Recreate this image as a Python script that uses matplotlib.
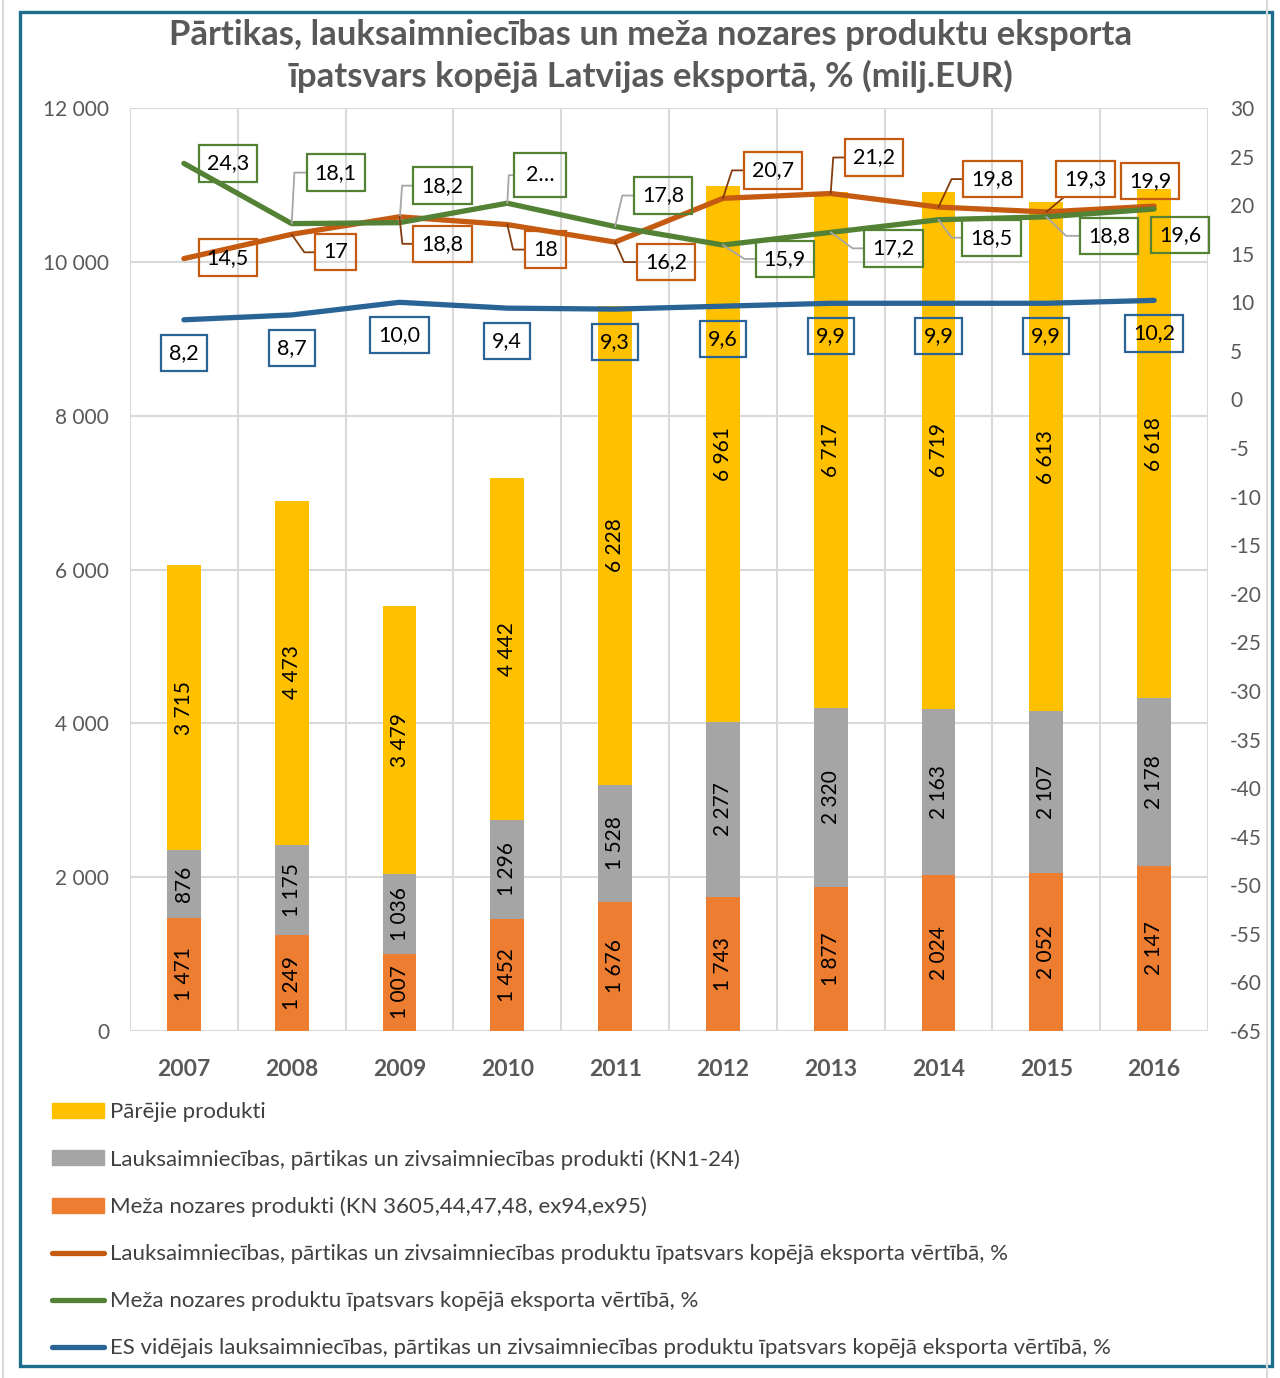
import matplotlib
matplotlib.use("Agg")
import matplotlib.pyplot as plt
import numpy as np
from matplotlib.lines import Line2D
from matplotlib.patches import Patch, Rectangle

plt.rcParams["font.family"] = ["Lato", "DejaVu Sans"]

years = ["2007", "2008", "2009", "2010", "2011", "2012", "2013", "2014", "2015", "2016"]
forest = [1471, 1249, 1007, 1452, 1676, 1743, 1877, 2024, 2052, 2147]
agri = [876, 1175, 1036, 1296, 1528, 2277, 2320, 2163, 2107, 2178]
other = [3715, 4473, 3479, 4442, 6228, 6961, 6717, 6719, 6613, 6618]
agri_share = [14.5, 17.0, 18.8, 18.0, 16.2, 20.7, 21.2, 19.8, 19.3, 19.9]
forest_share = [24.3, 18.1, 18.2, 20.2, 17.8, 15.9, 17.2, 18.5, 18.8, 19.6]
eu_share = [8.2, 8.7, 10.0, 9.4, 9.3, 9.6, 9.9, 9.9, 9.9, 10.2]

C_YEL, C_GRY, C_ORG = "#FFC000", "#A5A5A5", "#ED7D31"
C_L_ORG, C_L_GRN, C_L_BLU = "#C55A11", "#548235", "#2A6496"
TXT = "#595959"

fig = plt.figure(figsize=(12.8, 13.78), dpi=100)
ax = fig.add_axes([130 / 1280, 1 - 1031 / 1378, (1208 - 130) / 1280, (1031 - 108) / 1378])
x = np.arange(len(years))
w = 0.315

b1 = np.array(forest)
b2 = b1 + np.array(agri)
ax.bar(x, forest, w, color=C_ORG, zorder=2)
ax.bar(x, agri, w, bottom=b1, color=C_GRY, zorder=2)
ax.bar(x, other, w, bottom=b2, color=C_YEL, zorder=2)

def fmt(v):
    return f"{v:,}".replace(",", " ")

for vals, bots in [(forest, np.zeros(len(x))), (agri, b1), (other, b2)]:
    for xx, v, b in zip(x, vals, bots):
        ax.text(xx, b + v / 2, fmt(v), rotation=90, ha="center", va="center",
                fontsize=15, color="black", zorder=3)

ax.set_xlim(-0.5, 9.5)
ax.set_ylim(0, 12000)
ax.set_yticks(range(0, 12001, 2000))
ax.set_yticklabels([fmt(v) for v in range(0, 12001, 2000)])
ax.set_xticks(x)
ax.set_xticklabels(years, fontweight="bold", fontsize=16.5, color=TXT)
ax.set_xticks(np.arange(-0.5, 10, 1), minor=True)
ax.tick_params(axis="y", labelsize=15, labelcolor=TXT, length=0, pad=15)
ax.tick_params(axis="x", which="both", length=0, pad=20)
ax.grid(axis="y", color="#D9D9D9", lw=1.5, zorder=0)
ax.grid(axis="x", which="minor", color="#D9D9D9", lw=1.5, zorder=0)
for s in ax.spines.values():
    s.set_visible(False)

ax2 = ax.twinx()
ax2.set_ylim(-65, 30)
ax2.set_yticks(range(-65, 31, 5))
ax2.set_yticklabels([str(v) for v in range(-65, 31, 5)])
ax2.tick_params(axis="y", labelsize=15, labelcolor=TXT, length=0, pad=16)
for s in ax2.spines.values():
    s.set_visible(False)

lw = 3.8
ax2.plot(x, eu_share, color=C_L_BLU, lw=lw, solid_capstyle="round", zorder=4)
ax2.plot(x, agri_share, color=C_L_ORG, lw=lw, solid_capstyle="round", zorder=4)
ax2.plot(x, forest_share, color=C_L_GRN, lw=lw, solid_capstyle="round", zorder=4)

def lab(v):
    return f"{v:.1f}".replace(".", ",")

# label offsets (pixels) and leader angles
grn_off = [(44, 0), (44, 51), (43, 37), (33, 28), (48, 31), (62, -14), (63, -16), (53, -18), (63, -19), (26, -26)]
grn_ang = [None, 87, 86, 87, 77, -33, -36, -54, -44, None]
org_off = [(44, 1), (44, -18), (43, -27), (38, -25), (51, -20), (50, 28), (43, 36), (54, 28), (39, 33), (-4, 25)]
org_ang = [None, -55, -84, -77, -66, 72, 86, 65, 40, None]
agri_txt = ["14,5", "17", "18,8", "18", "16,2", "20,7", "21,2", "19,8", "19,3", "19,9"]
grn_txt = [lab(v) for v in forest_share]
grn_txt[3] = "2…"

def put(xx, yy, s, off, ang, ec, lc):
    bb = dict(boxstyle="square,pad=0.38", fc="none", ec=ec, lw=1.6)
    if s == "2…":
        bb = dict(boxstyle="square,pad=0.55", fc="none", ec=ec, lw=1.6)
    ap = None
    if ang is not None:
        ap = dict(arrowstyle="-", color=lc, lw=1.3, shrinkA=0, shrinkB=0,
                  connectionstyle=f"angle,angleA=0,angleB={ang},rad=0")
    ax2.annotate(s, (xx, yy), xytext=off, textcoords="offset pixels", ha="center",
                 va="center", fontsize=15.5, color="black", bbox=bb, arrowprops=ap, zorder=5)

for i in range(len(years)):
    put(x[i], forest_share[i], grn_txt[i], grn_off[i], grn_ang[i], C_L_GRN, "#A6A6A6")
    put(x[i], agri_share[i], agri_txt[i], org_off[i], org_ang[i], C_L_ORG, "#843C0C")
    put(x[i], eu_share[i], lab(eu_share[i]), (0, -33), None, C_L_BLU, None)

fig.text(651 / 1280, 1 - 56 / 1378,
         "Pārtikas, lauksaimniecības un meža nozares produktu eksporta\n"
         "īpatsvars kopējā Latvijas eksportā, % (milj.EUR)",
         ha="center", va="center", fontsize=25, fontweight="bold", color=TXT, linespacing=1.35)

handles = [
    Patch(color=C_YEL), Patch(color=C_GRY), Patch(color=C_ORG),
    Line2D([], [], color=C_L_ORG, lw=lw, solid_capstyle="round"),
    Line2D([], [], color=C_L_GRN, lw=lw, solid_capstyle="round"),
    Line2D([], [], color=C_L_BLU, lw=lw, solid_capstyle="round"),
]
labels = [
    "Pārējie produkti",
    "Lauksaimniecības, pārtikas un zivsaimniecības produkti (KN1-24)",
    "Meža nozares produkti (KN 3605,44,47,48, ex94,ex95)",
    "Lauksaimniecības, pārtikas un zivsaimniecības produktu īpatsvars kopējā eksporta vērtībā, %",
    "Meža nozares produktu īpatsvars kopējā eksporta vērtībā, %",
    "ES vidējais lauksaimniecības, pārtikas un zivsaimniecības produktu īpatsvars kopējā eksporta vērtībā, %",
]
leg = fig.legend(handles, labels, loc="upper left", bbox_to_anchor=(52 / 1280, 1 - 1102 / 1378),
                 frameon=False, fontsize=16, handlelength=2.35, handleheight=0.65, handletextpad=0.28,
                 labelspacing=1.215, borderpad=0, borderaxespad=0)
for t in leg.get_texts():
    t.set_color("#404040")

fig.add_artist(Rectangle((20 / 1280, 1 - 1366 / 1378), 1252 / 1280, 1354 / 1378,
                         transform=fig.transFigure, fill=False, ec="#1C6E8C", lw=2.4))
fig.add_artist(Line2D([3 / 1280, 3 / 1280], [0, 1], transform=fig.transFigure, color="#D9D9D9", lw=1.5))
fig.add_artist(Line2D([1267 / 1280, 1267 / 1280], [0, 1], transform=fig.transFigure, color="#D9D9D9", lw=1.5))

fig.savefig("out.png", dpi=100)
